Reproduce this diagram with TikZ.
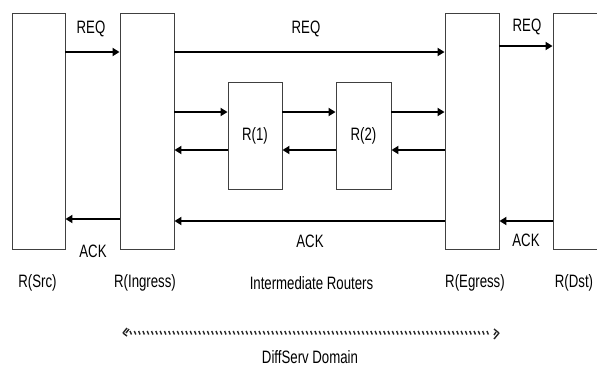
\documentclass[tikz,border=0pt]{standalone}
\usepackage{fontspec}
\setmainfont{Liberation Sans}
\usetikzlibrary{arrows.meta}
\newcommand\cnd[1]{\scalebox{0.885}[1.2]{#1}}
\tikzset{
  box/.style={draw=black!75, line width=0.9bp, fill=white, inner sep=0pt},
  arr/.style={draw=black, line width=1.8bp, -{Triangle[length=7bp,width=8bp]}},
  lbl/.style={font=\fontsize{15}{18}\selectfont, inner sep=0pt, text=black},
  hatch/.style={line width=1.4bp, black!85}
}
\begin{document}
\begin{tikzpicture}[x=1bp,y=-1bp]
\useasboundingbox (0,0) rectangle (597,367);
% boxes
\node[box, minimum width=53bp, minimum height=236bp] (src) at (38.5,131) {};
\node[box, minimum width=54bp, minimum height=236bp] (ing) at (147,131) {};
\node[box, minimum width=54bp, minimum height=236bp] (egr) at (472,131) {};
\node[box, minimum width=70bp, minimum height=236bp] (dst) at (588,131) {};
\node[box, minimum width=54bp, minimum height=107bp, lbl] (r1) at (255,135.5) {\cnd{R(1)}};
\node[box, minimum width=55bp, minimum height=107bp, lbl] (r2) at (363.5,135.5) {\cnd{R(2)}};
% levels
\coordinate (yreqa) at (0,52);
\coordinate (yreqb) at (0,46);
\coordinate (yfw) at (0,112);
\coordinate (ybw) at (0,150);
\coordinate (yacka) at (0,219);
\coordinate (yackb) at (0,221);
% REQ
\draw[arr] (src.east |- yreqa) -- (ing.west |- yreqa);
\draw[arr] (ing.east |- yreqa) -- (egr.west |- yreqa);
\draw[arr] (egr.east |- yreqb) -- (dst.west |- yreqb);
\node[lbl] (req1) at (91,28.5) {\cnd{REQ}};
\node[lbl] (req2) at (306,29) {\cnd{REQ}};
\node[lbl] (req3) at (527,26.5) {\cnd{REQ}};
% forward / backward through routers
\draw[arr] (ing.east |- yfw) -- (r1.west |- yfw);
\draw[arr] (r1.east |- yfw) -- (r2.west |- yfw);
\draw[arr] (r2.east |- yfw) -- (egr.west |- yfw);
\draw[arr] (r1.west |- ybw) -- (ing.east |- ybw);
\draw[arr] (r2.west |- ybw) -- (r1.east |- ybw);
\draw[arr] (egr.west |- ybw) -- (r2.east |- ybw);
% ACK
\draw[arr] (ing.west |- yacka) -- (src.east |- yacka);
\draw[arr] (egr.west |- yackb) -- (ing.east |- yackb);
\draw[arr] (dst.west |- yackb) -- (egr.east |- yackb);
\node[lbl] (ack1) at (93,251) {\cnd{ACK}};
\node[lbl] (ack2) at (310,241) {\cnd{ACK}};
\node[lbl] (ack3) at (526,240.5) {\cnd{ACK}};
% bottom labels
\node[lbl] (lsrc) at (37.5,283) {\cnd{R(Src)}};
\node[lbl] (ling) at (145,283) {\cnd{R(Ingress)}};
\node[lbl] (lint) at (311.5,283) {\cnd{Intermediate Routers}};
\node[lbl] (legr) at (475,283) {\cnd{R(Egress)}};
\node[lbl] (ldst) at (574,283) {\cnd{R(Dst)}};
% hatched double arrow
\coordinate (hl) at (123,333);
\coordinate (hr) at (499,333);
\foreach \x in {130,134.3,...,488} \draw[hatch] (\x,331) -- ++(1.5,3.5);
\draw[hatch] (hl) -- ++(4,-5);
\draw[hatch] (hl) ++(3,0) -- ++(3,-4);
\draw[hatch] (hl) -- ++(4,3);
\draw[hatch] (hr) -- ++(-5,-4);
\draw[hatch] (hr) -- ++(-5,6);
\draw[hatch] (hr) ++(-3,-1) -- ++(-2,3);
\node[lbl] (ds) at (310,357) {\cnd{DiffServ Domain}};
\end{tikzpicture}
\end{document}
